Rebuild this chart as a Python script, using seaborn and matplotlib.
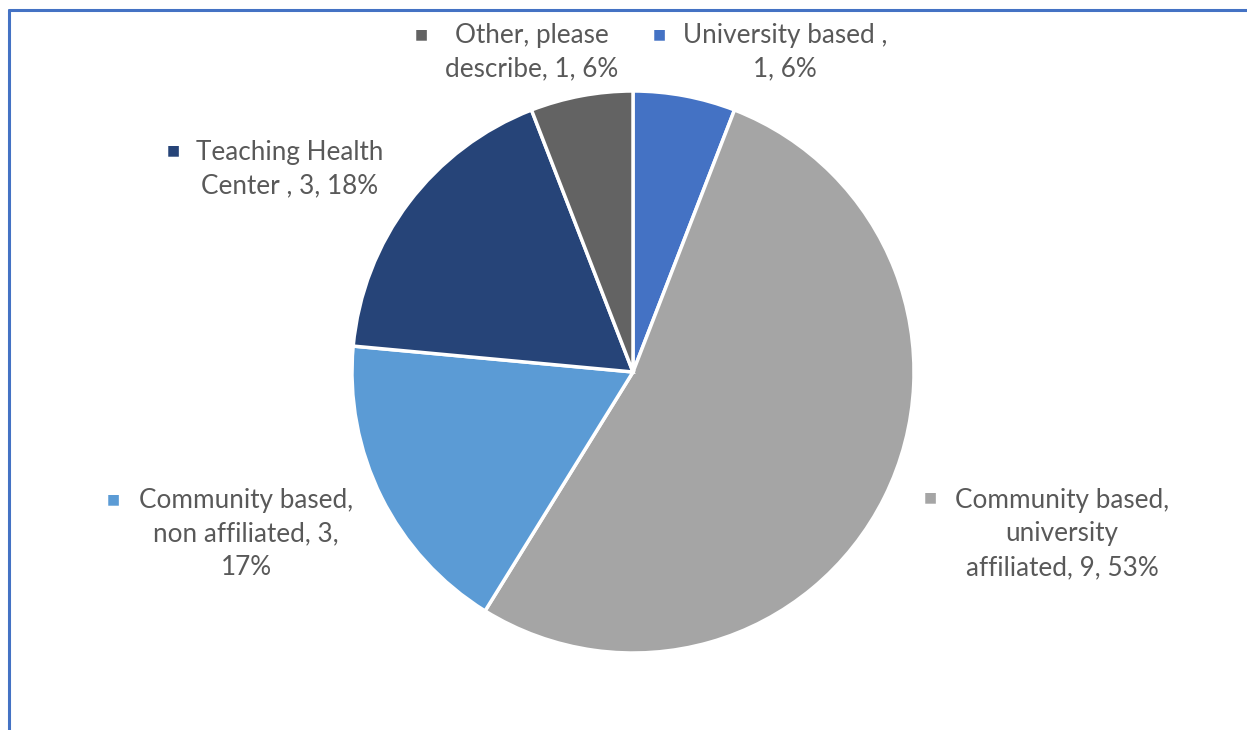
import matplotlib
matplotlib.use("Agg")
import matplotlib.pyplot as plt
from matplotlib.lines import Line2D
import seaborn as sns

sns.set_theme(style="white")
plt.rcParams["font.family"] = ["Lato", "DejaVu Sans"]

# Residency program settings (count per category)
categories = [
    "University based ,",
    "Community based,\nuniversity\naffiliated",
    "Community based,\nnon affiliated",
    "Teaching Health\nCenter ,",
    "Other, please\ndescribe",
]
counts = [1, 9, 3, 3, 1]
percents = ["6%", "53%", "17%", "18%", "6%"]
colors = ["#4472C4", "#A5A5A5", "#5B9BD5", "#264478", "#636363"]

# data label text; line breaks follow the category names
label_texts = [
    "University based ,\n1, 6%",
    "Community based,\nuniversity\naffiliated, 9, 53%",
    "Community based,\nnon affiliated, 3,\n17%",
    "Teaching Health\nCenter , 3, 18%",
    "Other, please\ndescribe, 1, 6%",
]

W, H = 1247, 730
# pixel layout: label block centres and legend-key squares
label_centers = [(785, 52), (1062, 534), (246, 534), (290, 169), (532, 52)]
marker_pos = [(659, 34), (930, 497), (113, 499), (173, 150), (421, 34)]

fig = plt.figure(figsize=(W / 100, H / 100), dpi=100)
fig.patch.set_facecolor("white")

cx, cy, r = 633, 372, 281
ax = fig.add_axes([(cx - r) / W, 1 - (cy + r) / H, 2 * r / W, 2 * r / H])
ax.pie(
    counts,
    colors=colors,
    startangle=90,
    counterclock=False,
    radius=1,
    wedgeprops=dict(edgecolor="white", linewidth=2.5),
)
ax.set_xlim(-1.0, 1.0)
ax.set_ylim(-1.0, 1.0)
ax.set_aspect("equal")
ax.axis("off")

text_color = "#595959"
for txt, (tx, ty), (mx, my), col in zip(label_texts, label_centers, marker_pos, colors):
    fig.text(tx / W, 1 - ty / H, txt, ha="center", va="center", fontsize=18.8,
             color=text_color, linespacing=1.42, multialignment="center")
    fig.text(mx / W, 1 - my / H, "\u25A0", ha="center", va="center", fontsize=10,
             color=col, family=["DejaVu Sans"])

# blue frame along the top and left edges
frame = "#4472C4"
fig.add_artist(Line2D([9 / W, 1.0], [1 - 10 / H, 1 - 10 / H], color=frame, lw=2.2,
                      transform=fig.transFigure))
fig.add_artist(Line2D([9 / W, 9 / W], [0.0, 1 - 10 / H], color=frame, lw=2.2,
                      transform=fig.transFigure))

fig.savefig("out.png", dpi=100, facecolor="white")
